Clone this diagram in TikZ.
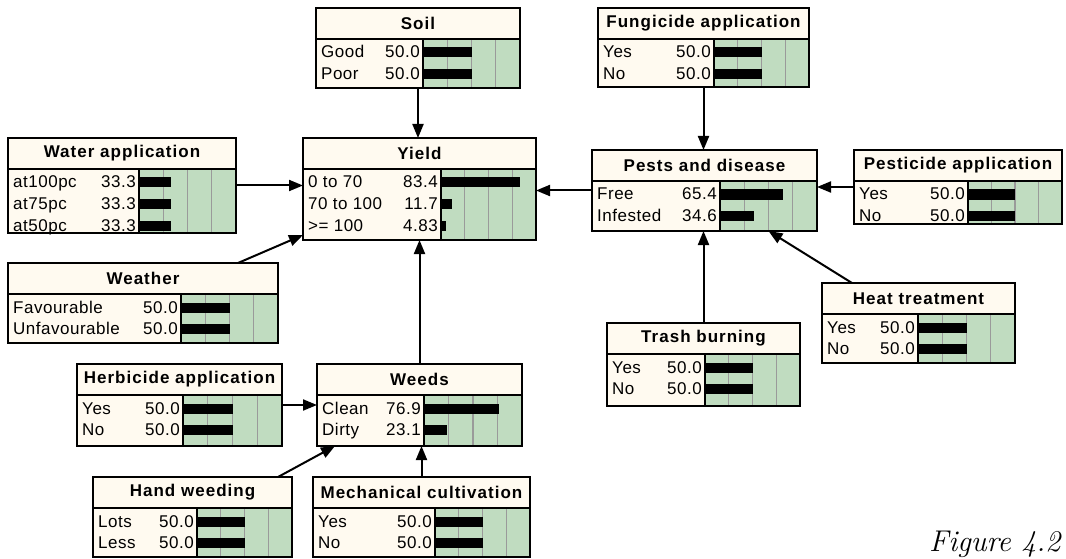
\documentclass[tikz,border=0pt]{standalone}
\usepackage{fontspec}
\newfontfamily\netfont{Liberation Sans}[LetterSpace=3]
\newfontfamily\nettitlefont{Liberation Sans}[LetterSpace=6]
\usetikzlibrary{arrows.meta, calc}

\definecolor{netcream}{HTML}{FFFAF0}
\definecolor{netgreen}{HTML}{C0DCC0}
\definecolor{netgrid}{HTML}{9A9A9A}

% belief node: name, left, top, right, split, bottom, title, state/value list
\newcommand{\beliefnode}[8]{%
    \fill[netcream] (#2,#3) rectangle (#5,#6);
    \fill[netgreen] (#5,{#3+31}) rectangle (#4,#6);
    \foreach \q in {1,2,3}
        \draw[gridline] ({#5+(#4-#5)*\q/4},{#3+31}) -- ({#5+(#4-#5)*\q/4},#6);
    \foreach \s/\v [count=\i] in {#8} {
        \node[statetext, anchor=base west] (#1-s\i) at ({#2+5},{#3+28.5+21.5*\i}) {\s};
        \node[statetext, anchor=base east] (#1-v\i) at ({#5-3},{#3+28.5+21.5*\i}) {\v};
        \fill ({#5},{#3+18+21.5*\i}) rectangle ({#5+(#4-#5)*\v/100},{#3+28+21.5*\i});
    }
    \draw[boxline] (#5,{#3+31}) -- (#5,#6);
    \node[titlebox, minimum width={#4-#2}, anchor=north west] (#1-title) at (#2,#3) {#7};
    \node[nodeframe, minimum width={#4-#2}, minimum height={#6-#3}, anchor=north west] (#1) at (#2,#3) {};
}

\begin{document}
\begin{tikzpicture}[
    x=1pt, y=-1pt,
    boxline/.style={line width=2pt},
    gridline/.style={netgrid, line width=1.4pt},
    statetext/.style={font=\netfont\fontsize{17}{19}\selectfont, inner sep=0pt},
    titlebox/.style={rectangle, draw, fill=netcream, line width=2pt, minimum height=31, inner sep=0pt, outer sep=0pt, font=\nettitlefont\bfseries\fontsize{17}{19}\selectfont},
    nodeframe/.style={rectangle, draw, line width=2pt, inner sep=0pt, outer sep=0pt},
    link/.style={-{Triangle[length=14pt, width=11pt]}, line width=2pt}
]
    \useasboundingbox (0,0) rectangle (1066,559);

    % Top row
    \beliefnode{soil}{316}{8}{520}{423}{88}{Soil}{Good/50.0, Poor/50.0}
    \beliefnode{fungicide}{598}{8}{809}{714}{87}{Fungicide application}{Yes/50.0, No/50.0}

    % Middle row
    \beliefnode{water}{8}{138}{236}{139}{233}{Water application}{at100pc/33.3, at75pc/33.3, at50pc/33.3}
    \beliefnode{yield}{303}{138}{536}{441}{240}{Yield}{0 to 70/83.4, 70 to 100/11.7, >= 100/4.83}
    \beliefnode{pests}{592}{150}{817}{720}{231}{Pests and disease}{Free/65.4, Infested/34.6}
    \beliefnode{pesticide}{854}{150}{1062}{968}{224}{Pesticide application}{Yes/50.0, No/50.0}

    \beliefnode{weather}{8}{263}{278}{181}{343}{Weather}{Favourable/50.0, Unfavourable/50.0}
    \beliefnode{heat}{822}{283}{1015}{918}{363}{Heat treatment}{Yes/50.0, No/50.0}
    \beliefnode{trash}{607}{323}{800}{705}{406}{Trash burning}{Yes/50.0, No/50.0}

    % Weeds and its parents
    \beliefnode{herbicide}{77}{364}{282}{183}{446}{Herbicide application}{Yes/50.0, No/50.0}
    \beliefnode{weeds}{317}{364}{522}{424}{446}{Weeds}{Clean/76.9, Dirty/23.1}
    \beliefnode{hand}{93}{477}{292}{197}{557}{Hand weeding}{Lots/50.0, Less/50.0}
    \beliefnode{mech}{313}{477}{530}{435}{557}{Mechanical cultivation}{Yes/50.0, No/50.0}

    % Connections into Yield
    \draw[link] (soil.south) -- (soil.south |- yield.north);
    \draw[link] (water.east) -- (water.east -| yield.west);
    \draw[link] ($(weather.north east)+(-40,0)$) -- ($(yield.south west)+(0,-5)$);
    \draw[link] (weeds.north) -- (weeds.north |- yield.south);
    \draw[link] (pests.west) -- (pests.west -| yield.east);

    % Connections into Pests and disease
    \draw[link] (fungicide.south) -- (fungicide.south |- pests.north);
    \draw[link] (pesticide.west) -- (pesticide.west -| pests.east);
    \draw[link] (trash.north) -- (trash.north |- pests.south);
    \draw[link] ($(heat.north west)+(30,0)$) -- ($(pests.south)+(64,0)$);

    % Connections into Weeds
    \draw[link] (herbicide.east) -- (herbicide.east -| weeds.west);
    \draw[link] ($(hand.north east)+(-14,0)$) -- ($(weeds.south west)+(18,0)$);
    \draw[link] (mech.north) -- (mech.north |- weeds.south);

    \node[anchor=base east, font=\fontsize{30}{34}\selectfont\itshape] (figlabel) at (1064,551) {Figure 4.2};
\end{tikzpicture}
\end{document}
